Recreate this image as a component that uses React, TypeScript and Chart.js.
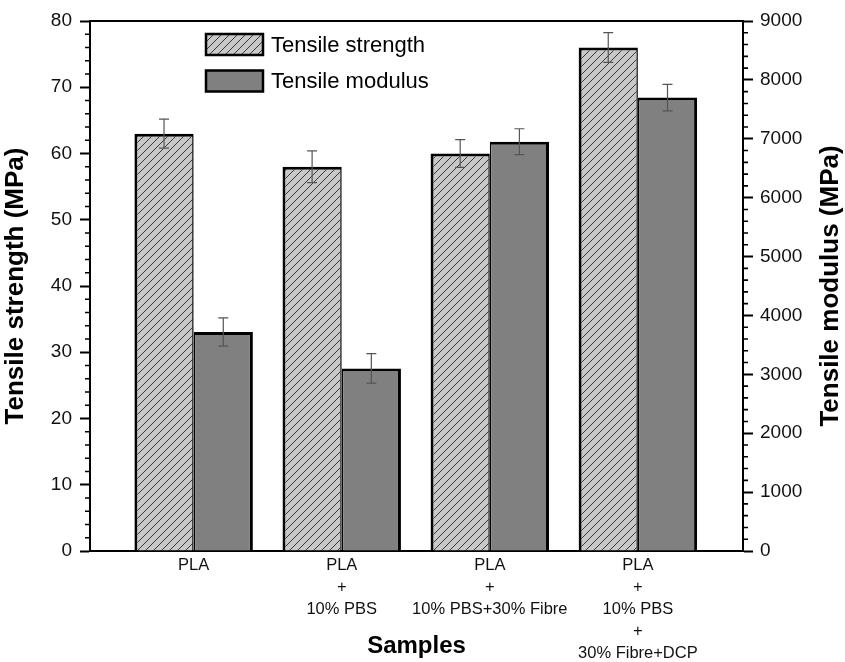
import React, { useEffect, useRef } from 'react';
import { Chart, registerables } from 'chart.js';

Chart.register(...registerables);

// ---- data ----
const categories: string[][] = [
  ['PLA'],
  ['PLA', '+', '10% PBS'],
  ['PLA', '+', '10% PBS+30% Fibre'],
  ['PLA', '+', '10% PBS', '+', '30% Fibre+DCP'],
];
const samplePositions = [1, 2, 3, 4];
const seriesLabels = ['Tensile strength', 'Tensile modulus'];
const strength = [63, 58, 60, 76];
const strengthErr = [2.2, 2.4, 2.1, 2.25];
const modulus = [3720, 3100, 6950, 7700];
const modulusErr = [240, 250, 220, 225];
const leftTitle = 'Tensile strength (MPa)';
const rightTitle = 'Tensile modulus (MPa)';
const xTitle = 'Samples';

const FONT = "'Liberation Sans', Arial, Helvetica, sans-serif";

function makeHatch(): CanvasPattern | string {
  const c = document.createElement('canvas');
  c.width = 8;
  c.height = 8;
  const g = c.getContext('2d');
  if (!g) return '#c6c6c6';
  g.fillStyle = '#c8c8c8';
  g.fillRect(0, 0, 8, 8);
  g.strokeStyle = '#3a3a3a';
  g.lineWidth = 1;
  g.beginPath();
  g.moveTo(0, 8); g.lineTo(8, 0);
  g.moveTo(-4, 4); g.lineTo(4, -4);
  g.moveTo(4, 12); g.lineTo(12, 4);
  g.stroke();
  return g.createPattern(c, 'repeat') || '#c6c6c6';
}

export default function App() {
  const ref = useRef<HTMLCanvasElement | null>(null);

  useEffect(() => {
    const canvas = ref.current;
    if (!canvas) return;
    const hatch = makeHatch();
    const errs = [strengthErr, modulusErr];

    const errorBars = {
      id: 'errorBars',
      afterDatasetsDraw(chart: any) {
        const ctx = chart.ctx;
        chart.data.datasets.forEach((ds: any, di: number) => {
          const meta = chart.getDatasetMeta(di);
          const ys = chart.scales[meta.yAxisID];
          meta.data.forEach((bar: any, i: number) => {
            const v = ds.data[i].y;
            const e = errs[di][i];
            const x = bar.x;
            const yt = ys.getPixelForValue(v + e);
            const yb = ys.getPixelForValue(v - e);
            ctx.save();
            ctx.strokeStyle = '#555';
            ctx.lineWidth = 1.2;
            ctx.beginPath();
            ctx.moveTo(x, yt); ctx.lineTo(x, yb);
            ctx.moveTo(x - 5, yt); ctx.lineTo(x + 5, yt);
            ctx.moveTo(x - 5, yb); ctx.lineTo(x + 5, yb);
            ctx.stroke();
            ctx.restore();
          });
        });
      },
    };

    const frame = {
      id: 'frame',
      afterDraw(chart: any) {
        const ctx = chart.ctx;
        const a = chart.chartArea;
        const yL = chart.scales.y;
        const yR = chart.scales.y1;
        ctx.save();
        // top border
        ctx.strokeStyle = '#000';
        ctx.lineWidth = 2;
        ctx.beginPath();
        ctx.moveTo(a.left - 1, a.top);
        ctx.lineTo(a.right + 1, a.top);
        ctx.stroke();
        // minor ticks
        ctx.lineWidth = 1.6;
        ctx.beginPath();
        for (let v = 0; v <= 80; v += 2) {
          if (v % 10 === 0) continue;
          const y = yL.getPixelForValue(v);
          ctx.moveTo(a.left, y); ctx.lineTo(a.left - 5, y);
        }
        for (let v = 0; v <= 9000; v += 200) {
          if (v % 1000 === 0) continue;
          const y = yR.getPixelForValue(v);
          ctx.moveTo(a.right, y); ctx.lineTo(a.right + 5, y);
        }
        ctx.stroke();
        // right title, reading bottom to top
        ctx.fillStyle = '#000';
        ctx.font = `bold 26px ${FONT}`;
        ctx.textAlign = 'center';
        ctx.textBaseline = 'middle';
        ctx.translate(831, (a.top + a.bottom) / 2);
        ctx.rotate(-Math.PI / 2);
        ctx.fillText(rightTitle, 0, 0);
        ctx.restore();

        // legend
        ctx.save();
        const fills = [hatch, '#808080'];
        const rows = [44.5, 81];
        ctx.font = `22px ${FONT}`;
        ctx.textAlign = 'left';
        ctx.textBaseline = 'middle';
        seriesLabels.forEach((lab, i) => {
          const y = rows[i];
          ctx.fillStyle = fills[i] as any;
          ctx.fillRect(206, y - 10.5, 57, 21);
          ctx.strokeStyle = '#000';
          ctx.lineWidth = 2.5;
          ctx.strokeRect(206, y - 10.5, 57, 21);
          ctx.fillStyle = '#000';
          ctx.fillText(lab, 271, y + 1);
        });
        ctx.restore();
      },
    };

    const chart = new Chart(canvas, {
      type: 'bar',
      data: {
        datasets: [
          {
            label: seriesLabels[0],
            data: samplePositions.map((x, i) => ({ x, y: strength[i] })),
            yAxisID: 'y',
            backgroundColor: hatch as any,
            borderColor: '#000',
            borderWidth: { top: 3, left: 3, right: 1.5, bottom: 0 } as any,
            borderSkipped: false,
            categoryPercentage: 0.8,
            barPercentage: 1.0,
          },
          {
            label: seriesLabels[1],
            data: samplePositions.map((x, i) => ({ x, y: modulus[i] })),
            yAxisID: 'y1',
            backgroundColor: '#808080',
            borderColor: '#000',
            borderWidth: { top: 3, left: 1.5, right: 3, bottom: 0 } as any,
            borderSkipped: false,
            categoryPercentage: 0.8,
            barPercentage: 1.0,
          },
        ],
      },
      options: {
        responsive: false,
        animation: false,
        layout: { padding: { top: 21, left: 0, right: 0, bottom: 0 } },
        plugins: {
          legend: { display: false },
          title: { display: false },
          tooltip: { enabled: false },
        },
        scales: {
          x: {
            type: 'linear',
            min: 0.3,
            max: 4.71,
            offset: false,
            grid: { display: false, offset: false, drawTicks: false },
            border: { display: true, color: '#000', width: 2 },
            afterBuildTicks(scale: any) {
              scale.ticks = samplePositions.map((v) => ({ value: v }));
            },
            afterFit(scale: any) {
              scale.height = 111;
            },
            ticks: {
              autoSkip: false,
              maxRotation: 0,
              minRotation: 0,
              padding: 4,
              color: '#111',
              font: { family: FONT, size: 16.5, lineHeight: 1.32 },
              callback: (v: any) => categories[Math.round(Number(v)) - 1] || '',
            },
            title: {
              display: true,
              text: xTitle,
              color: '#000',
              font: { family: FONT, size: 24, weight: 'bold' },
              padding: { top: 0, bottom: 1 },
            },
          },
          y: {
            type: 'linear',
            position: 'left',
            min: 0,
            max: 80,
            grid: { drawOnChartArea: false, tickLength: 10, tickWidth: 2, tickColor: '#000' },
            border: { display: true, color: '#000', width: 2 },
            afterFit(scale: any) {
              scale.width = 90;
            },
            ticks: {
              stepSize: 10,
              padding: 8,
              color: '#111',
              font: { family: FONT, size: 19 },
              callback: (v: any) => String(v),
            },
            title: {
              display: true,
              text: leftTitle,
              color: '#000',
              font: { family: FONT, size: 26, weight: 'bold' },
              padding: { top: 0, bottom: 0 },
            },
          },
          y1: {
            type: 'linear',
            position: 'right',
            min: 0,
            max: 9000,
            grid: { drawOnChartArea: false, tickLength: 10, tickWidth: 2, tickColor: '#000' },
            border: { display: true, color: '#000', width: 2 },
            afterFit(scale: any) {
              scale.width = 102;
            },
            ticks: {
              stepSize: 1000,
              padding: 7,
              color: '#111',
              font: { family: FONT, size: 19 },
              callback: (v: any) => String(v),
            },
            title: { display: false },
          },
        },
      } as any,
      plugins: [errorBars, frame],
    });
    return () => chart.destroy();
  }, []);

  return (
    <div style={{ position: 'fixed', left: 0, top: 0, width: 845, height: 662, background: '#fff' }}>
      <canvas ref={ref} width={845} height={662} style={{ display: 'block' }} />
    </div>
  );
}
